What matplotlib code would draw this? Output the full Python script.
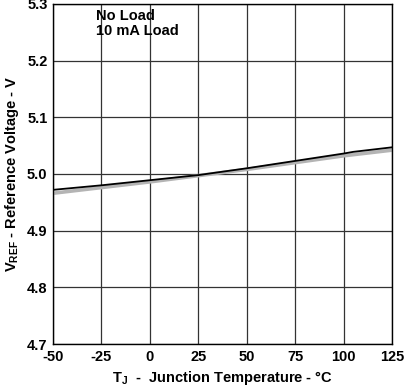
import matplotlib.pyplot as plt

plt.rcParams['font.family'] = ['Liberation Sans', 'DejaVu Sans']
plt.rcParams['font.weight'] = 'bold'
plt.rcParams['mathtext.default'] = 'regular'

# temperature (deg C)
temp = [-50, -25, 0, 25, 50, 75, 100, 105, 125]
# reference voltage, no load
v_noload = [4.972, 4.980, 4.989, 4.998, 5.010, 5.023, 5.036, 5.039, 5.047]
# reference voltage, 10 mA load
v_10ma = [4.966, 4.976, 4.986, 4.997, 5.008, 5.020, 5.032, 5.034, 5.042]

xticks = [-50, -25, 0, 25, 50, 75, 100, 125]
yticks = [4.7, 4.8, 4.9, 5.0, 5.1, 5.2, 5.3]

fig = plt.figure(figsize=(4.05, 3.87), dpi=100)
ax = fig.add_axes([0.131, 0.111, 0.837, 0.879])

ax.plot(temp, v_10ma, color='#b4b4b4', lw=2.6)
ax.plot(temp, v_noload, color='black', lw=1.3)

ax.set_xlim(-50, 125)
ax.set_ylim(4.7, 5.3)
ax.set_xticks(xticks)
ax.set_yticks(yticks)
ax.set_xticklabels([str(t) for t in xticks], fontsize=10.5, fontweight='bold')
ax.set_yticklabels(['%.1f' % t for t in yticks], fontsize=10.5, fontweight='bold')
ax.tick_params(length=0, pad=4)
ax.grid(True, color='#333333', lw=0.9)
for s in ax.spines.values():
    s.set_linewidth(1.0)

ax.text(0.128, 0.985, 'No Load\n10 mA Load', transform=ax.transAxes,
        fontsize=10.5, fontweight='bold', va='top', ha='left', linespacing=1.05)

ax.set_xlabel(r'T$_J$  -  Junction Temperature - °C', fontsize=10.5, fontweight='bold')
ax.set_ylabel(r'V$_{REF}$ - Reference Voltage - V', fontsize=10.5, fontweight='bold')

fig.savefig('out.png', dpi=100)
